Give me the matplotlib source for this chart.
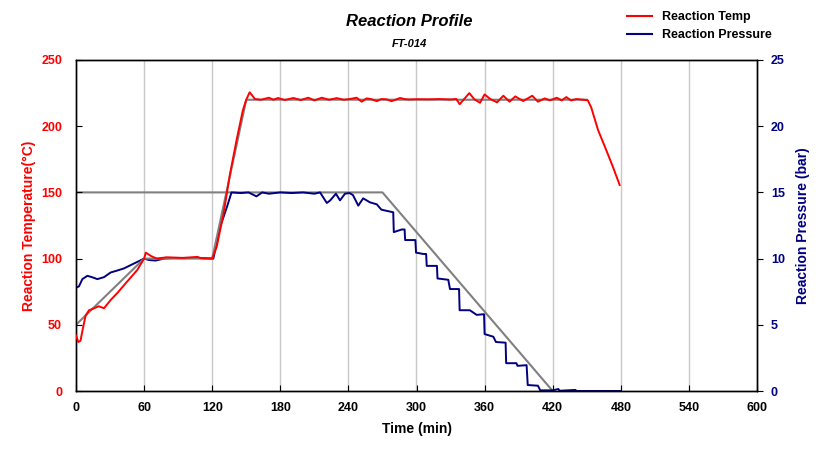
import matplotlib
matplotlib.use("Agg")
import matplotlib.pyplot as plt
from matplotlib.lines import Line2D

plt.rcParams['font.family'] = ['Liberation Sans', 'DejaVu Sans']

# ---- data ----
temp_time = [0, 2, 4, 6, 8.5, 11.5, 16, 20, 24.7, 30.5, 36.4, 45, 54, 60, 61.5, 66, 71, 80, 94,
             107, 110, 120, 124, 130, 135.7, 141.6, 147, 150, 153, 157.7, 163, 170, 174, 178, 184,
             191.5, 198, 204.7, 210, 216.5, 223, 229.7, 236, 241, 247.3, 251.7, 256, 260, 265, 269,
             273.7, 278, 285.5, 290, 294, 300, 310, 320, 330, 335, 338, 342, 346.5, 351, 356, 360,
             365, 371, 376.5, 382, 387, 394, 402, 407, 413, 417.6, 423.5, 428, 432, 436, 441, 447,
             451, 454, 460, 466, 473, 479]
temp_vals = [42, 37, 38, 47, 57, 61, 62.5, 64, 62.5, 68.7, 74, 82.6, 91.4, 100, 104.5, 102, 100, 101, 100.5,
             101.3, 100.3, 100, 109, 134, 164, 190, 212, 220, 225.6, 220.5, 220, 221.5, 220, 221.3, 219.8,
             221.3, 219.8, 221.5, 219.5, 221.5, 220, 221.2, 220, 220.5, 221.5, 218.5, 221, 220.5, 218.9, 220.5,
             220.3, 218.9, 221.3, 220.4, 220.2, 220.4, 220.3, 220.5, 220.2, 220.6, 216.6, 220.5, 225, 220.3, 217.7, 224,
             220.5, 218, 223, 218.5, 222.5, 219, 223, 218.5, 221, 219.5, 221.5, 219.5, 222, 219.5, 220.5, 220,
             219.5, 214, 197, 184.5, 169.4, 155.6]

press_time = [0, 2.6, 5.6, 10, 14, 18.8, 24.7, 30.5, 36.4, 42, 48, 54, 60, 64, 70, 77.5, 86, 100, 110,
              120, 121, 127, 133, 137, 145, 152, 159, 164, 170, 180, 190, 200, 210, 215, 221, 224, 229,
              232.6, 237, 241, 244, 248.7, 253, 259, 265, 269, 274, 279.5, 280, 287, 289.5, 290, 297,
              299, 299.6, 306, 308.5, 309, 318, 318.5, 328, 329.5, 337.5, 338, 347, 353, 359.5, 360,
              367.7, 370, 378.5, 379, 388, 389, 397, 398, 407, 409, 420, 425, 426, 440, 441, 480]
press_vals = [7.8, 7.9, 8.45, 8.7, 8.6, 8.45, 8.6, 8.95, 9.1, 9.25, 9.5, 9.75, 10.0, 9.9, 9.85, 10.0, 10.05, 10.05, 10.05,
              10.0, 10.0, 12.4, 13.9, 15.0, 14.95, 15.0, 14.7, 15.0, 14.9, 15.0, 14.95, 15.0, 14.9, 15.0, 14.2, 14.4, 14.9,
              14.4, 14.9, 14.95, 14.8, 14.0, 14.55, 14.25, 14.1, 13.7, 13.6, 13.5, 12.0, 12.2, 12.2, 11.4, 11.4,
              11.4, 10.45, 10.35, 10.35, 9.45, 9.45, 8.5, 8.4, 7.7, 7.7, 6.1, 6.1, 5.75, 5.8, 4.3,
              4.1, 3.7, 3.65, 2.1, 2.1, 1.9, 1.95, 0.45, 0.4, 0.05, 0.05, 0.15, 0.02, 0.08, 0.0, 0.0]

temp_sp_time = [0, 60, 120, 150, 450]
temp_sp_vals = [50, 100, 100, 220, 220]
press_sp_time = [0, 270, 420]
press_sp_vals = [15, 15, 0]

x_ticks = [0, 60, 120, 180, 240, 300, 360, 420, 480, 540, 600]
temp_ticks = [0, 50, 100, 150, 200, 250]
press_ticks = [0, 5, 10, 15, 20, 25]

RED = '#FF0000'
NAVY = '#000080'
GRAY = '#808080'

fig = plt.figure(figsize=(8.24, 4.61), dpi=100)
ax = fig.add_axes([76/824, 1 - 391/461, 681/824, 331/461])
ax2 = ax.twinx()

ax.set_xlim(0, 600)
ax.set_ylim(0, 250)
ax2.set_ylim(0, 25)
ax.set_xticks(x_ticks)
ax.set_yticks(temp_ticks)
ax2.set_yticks(press_ticks)

for xv in x_ticks[1:-1]:
    ax2.axvline(xv, color='#C8C8C8', lw=1.0, zorder=0)

ax2.plot(press_sp_time, press_sp_vals, color=GRAY, lw=1.5, zorder=1)
ax2.plot(press_time, press_vals, color=NAVY, lw=1.4, zorder=2)
ax.set_zorder(ax2.get_zorder() + 1)
ax.patch.set_visible(False)
ax.plot(temp_sp_time, temp_sp_vals, color=GRAY, lw=1.5, zorder=1)
ax.plot(temp_time, temp_vals, color=RED, lw=1.4, zorder=3)

ax.tick_params(axis='x', direction='in', length=4, labelsize=9, pad=8)
ax.tick_params(axis='y', direction='in', length=4, labelsize=9, labelcolor=RED, pad=10)
ax2.tick_params(axis='y', direction='out', length=4, labelsize=9, labelcolor=NAVY, pad=6)
for lab in ax.get_xticklabels() + ax.get_yticklabels() + ax2.get_yticklabels():
    lab.set_fontweight('bold')

for sp in list(ax.spines.values()) + list(ax2.spines.values()):
    sp.set_color('black')
    sp.set_linewidth(1.0)

ax.set_xlabel('Time (min)', fontsize=10, fontweight='bold', labelpad=6)
ax.set_ylabel('Reaction Temperature(\u00b0C)', fontsize=10, fontweight='bold', color=RED, labelpad=4)
ax2.set_ylabel('Reaction Pressure (bar)', fontsize=10, fontweight='bold', color=NAVY, labelpad=8)

fig.text(0.497, 1 - 22/461, 'Reaction Profile', ha='center', va='center',
         fontsize=12, fontweight='bold', fontstyle='italic')
fig.text(0.497, 1 - 44/461, 'FT-014', ha='center', va='center',
         fontsize=8, fontweight='bold', fontstyle='italic')

handles = [Line2D([], [], color=RED, lw=1.5), Line2D([], [], color=NAVY, lw=1.5)]
fig.legend(handles, ['Reaction Temp', 'Reaction Pressure'], loc='upper left',
           bbox_to_anchor=(622/824, 1 - 6/461), frameon=False,
           prop={'weight': 'bold', 'size': 9}, handlelength=2.0, handletextpad=0.8,
           labelspacing=0.5, borderaxespad=0)

fig.savefig('out.png', dpi=100)
